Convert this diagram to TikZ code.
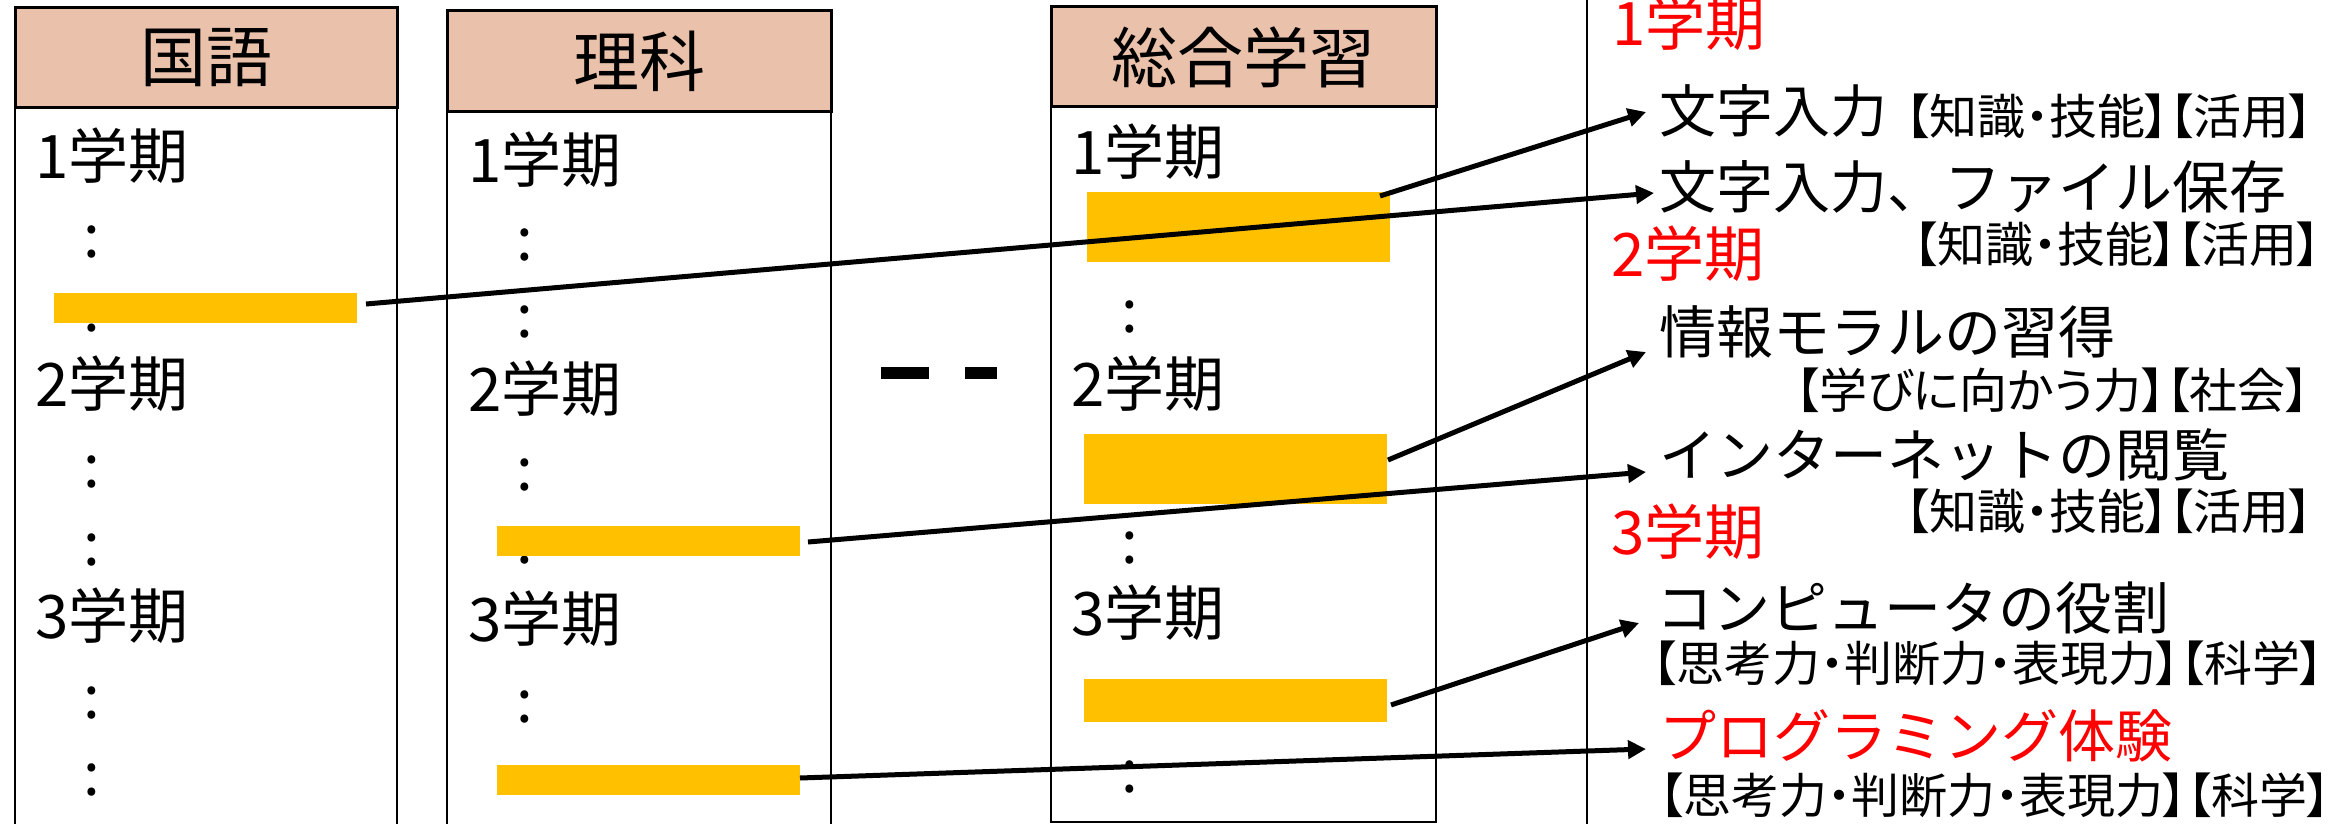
\documentclass[tikz,border=0pt]{standalone}
\usepackage{fontspec}
\setmainfont{Noto Sans CJK JP}
\newfontfamily\jpp[RawFeature=+palt]{Noto Sans CJK JP}
\usetikzlibrary{arrows.meta}
\definecolor{hdr}{RGB}{234,193,171}
\definecolor{gold}{RGB}{255,192,0}
\definecolor{redt}{RGB}{255,0,0}
\begin{document}
\begin{tikzpicture}[x=0.5pt,y=-0.5pt,
  txt/.style={inner sep=0pt,outer sep=0pt,anchor=base west},
  term/.style={txt,font=\fontsize{30pt}{30pt}\selectfont},
  colon/.style={inner sep=0pt,outer sep=0pt,anchor=center,font=\fontsize{30pt}{30pt}\selectfont},
  hdrbox/.style={draw,line width=1.5pt,fill=hdr,inner sep=0pt,font=\fontsize{33pt}{33pt}\selectfont},
  body/.style={draw,line width=1pt},
  big/.style={txt,font=\fontsize{28.5pt}{28.5pt}\selectfont},
  redhead/.style={txt,text=redt,font=\fontsize{30pt}{30pt}\selectfont},
  tag/.style={txt,font=\jpp\fontsize{24pt}{24pt}\selectfont},
  bar/.style={fill=gold,draw=none,inner sep=0pt,outer sep=0pt},
  conn/.style={line width=2.5pt,-{Triangle[length=9pt,width=9pt]}},
]
\useasboundingbox (0,0) rectangle (2352,824);
% column bodies
\draw[body] (15,108) rectangle (397,840);
\draw[body] (447,112) rectangle (831,840);
\draw[body] (1051,107) rectangle (1436,822);
\draw[line width=1pt] (1587,-5) -- (1587,830);
% headers
\node[hdrbox,minimum width=191pt,minimum height=50pt] (h1) at (206,58) {国語};
\node[hdrbox,minimum width=192pt,minimum height=50.5pt] (h2) at (639,61.5) {理科};
\node[hdrbox,minimum width=192.5pt,minimum height=50pt] (h3) at (1243.5,57) {総合学習};
% column 1
\node[term] (c1t1) at (35,178) {1学期};
\node[term] (c1t2) at (35,406) {2学期};
\node[term] (c1t3) at (35,638) {3学期};
\node[colon] (c1d1) at (92,242) {:};
\node[colon] (c1d2) at (92,316) {:};
\node[colon] (c1d3) at (92,472) {:};
\node[colon] (c1d4) at (92,550) {:};
\node[colon] (c1d5) at (92,703) {:};
\node[colon] (c1d6) at (92,780) {:};
% column 2
\node[term] (c2t1) at (468,183) {1学期};
\node[term] (c2t2) at (468,411) {2学期};
\node[term] (c2t3) at (468,641) {3学期};
\node[colon] (c2d1) at (525,245) {:};
\node[colon] (c2d2) at (525,322) {:};
\node[colon] (c2d3) at (525,475) {:};
\node[colon] (c2d4) at (525,548) {:};
\node[colon] (c2d5) at (525,707) {:};
% column 3
\node[term] (c3t1) at (1071,175) {1学期};
\node[term] (c3t2) at (1071,406) {2学期};
\node[term] (c3t3) at (1071,635) {3学期};
\node[colon] (c3d1) at (1130,317) {:};
\node[colon] (c3d2) at (1130,548) {:};
\node[colon] (c3d3) at (1130,777) {:};
% dashes between columns
\fill (881,367) rectangle (929,379);
\fill (965,367) rectangle (997,379);
% bars
\node[bar,minimum width=151.5pt,minimum height=15pt] (c1b) at (205.5,308) {};
\node[bar,minimum width=151.5pt,minimum height=15pt] (c2b1) at (648.5,541) {};
\node[bar,minimum width=151.5pt,minimum height=15pt] (c2b2) at (648.5,780) {};
\node[bar,minimum width=151.5pt,minimum height=35pt] (c3b1) at (1238.5,227) {};
\node[bar,minimum width=151.5pt,minimum height=35pt] (c3b2) at (1235.5,469) {};
\node[bar,minimum width=151.5pt,minimum height=21.5pt] (c3b3) at (1235.5,700.5) {};
% right side
\node[redhead] (r1) at (1612,46) {1学期};
\node[big] (t1) at (1659,133) {文字入力};
\node[tag] (g1) at (1905,134) {【知識・技能】【活用】};
\node[big] (t2) at (1659,208) {文字入力、ファイル保存};
\node[tag] (g2) at (1913,263) {【知識・技能】【活用】};
\node[redhead] (r2) at (1611,276) {2学期};
\node[big] (t3) at (1659,353) {情報モラルの習得};
\node[tag] (g3) at (1795,408) {【学びに向かう力】【社会】};
\node[big] (t4) at (1659,476) {インターネットの閲覧};
\node[tag] (g4) at (1905,529) {【知識・技能】【活用】};
\node[redhead] (r3) at (1611,554) {3学期};
\node[big] (t5) at (1656,629) {コンピュータの役割};
\node[tag] (g5) at (1652,681) {【思考力・判断力・表現力】【科学】};
\node[big,text=redt] (t6) at (1659,757) {プログラミング体験};
\node[tag] (g6) at (1659,813) {【思考力・判断力・表現力】【科学】};
% connectors
\draw[conn] ([shift={(-10,4)}]c3b1.north east) -- ([shift={(-13,-21)}]t1.base west);
\draw[conn] ([shift={(9,-4)}]c1b.east) -- ([shift={(-5,-15)}]t2.base west);
\draw[conn] ([shift={(1,-9)}]c3b2.east) -- ([shift={(-13,-1)}]t3.base west);
\draw[conn] ([shift={(8,1)}]c2b1.east) -- ([shift={(-13,-4)}]t4.base west);
\draw[conn] ([shift={(4,4.5)}]c3b3.east) -- ([shift={(-17,-6)}]t5.base west);
\draw[conn] ([shift={(0,-2)}]c2b2.east) -- ([shift={(-13,-8)}]t6.base west);
\end{tikzpicture}
\end{document}
